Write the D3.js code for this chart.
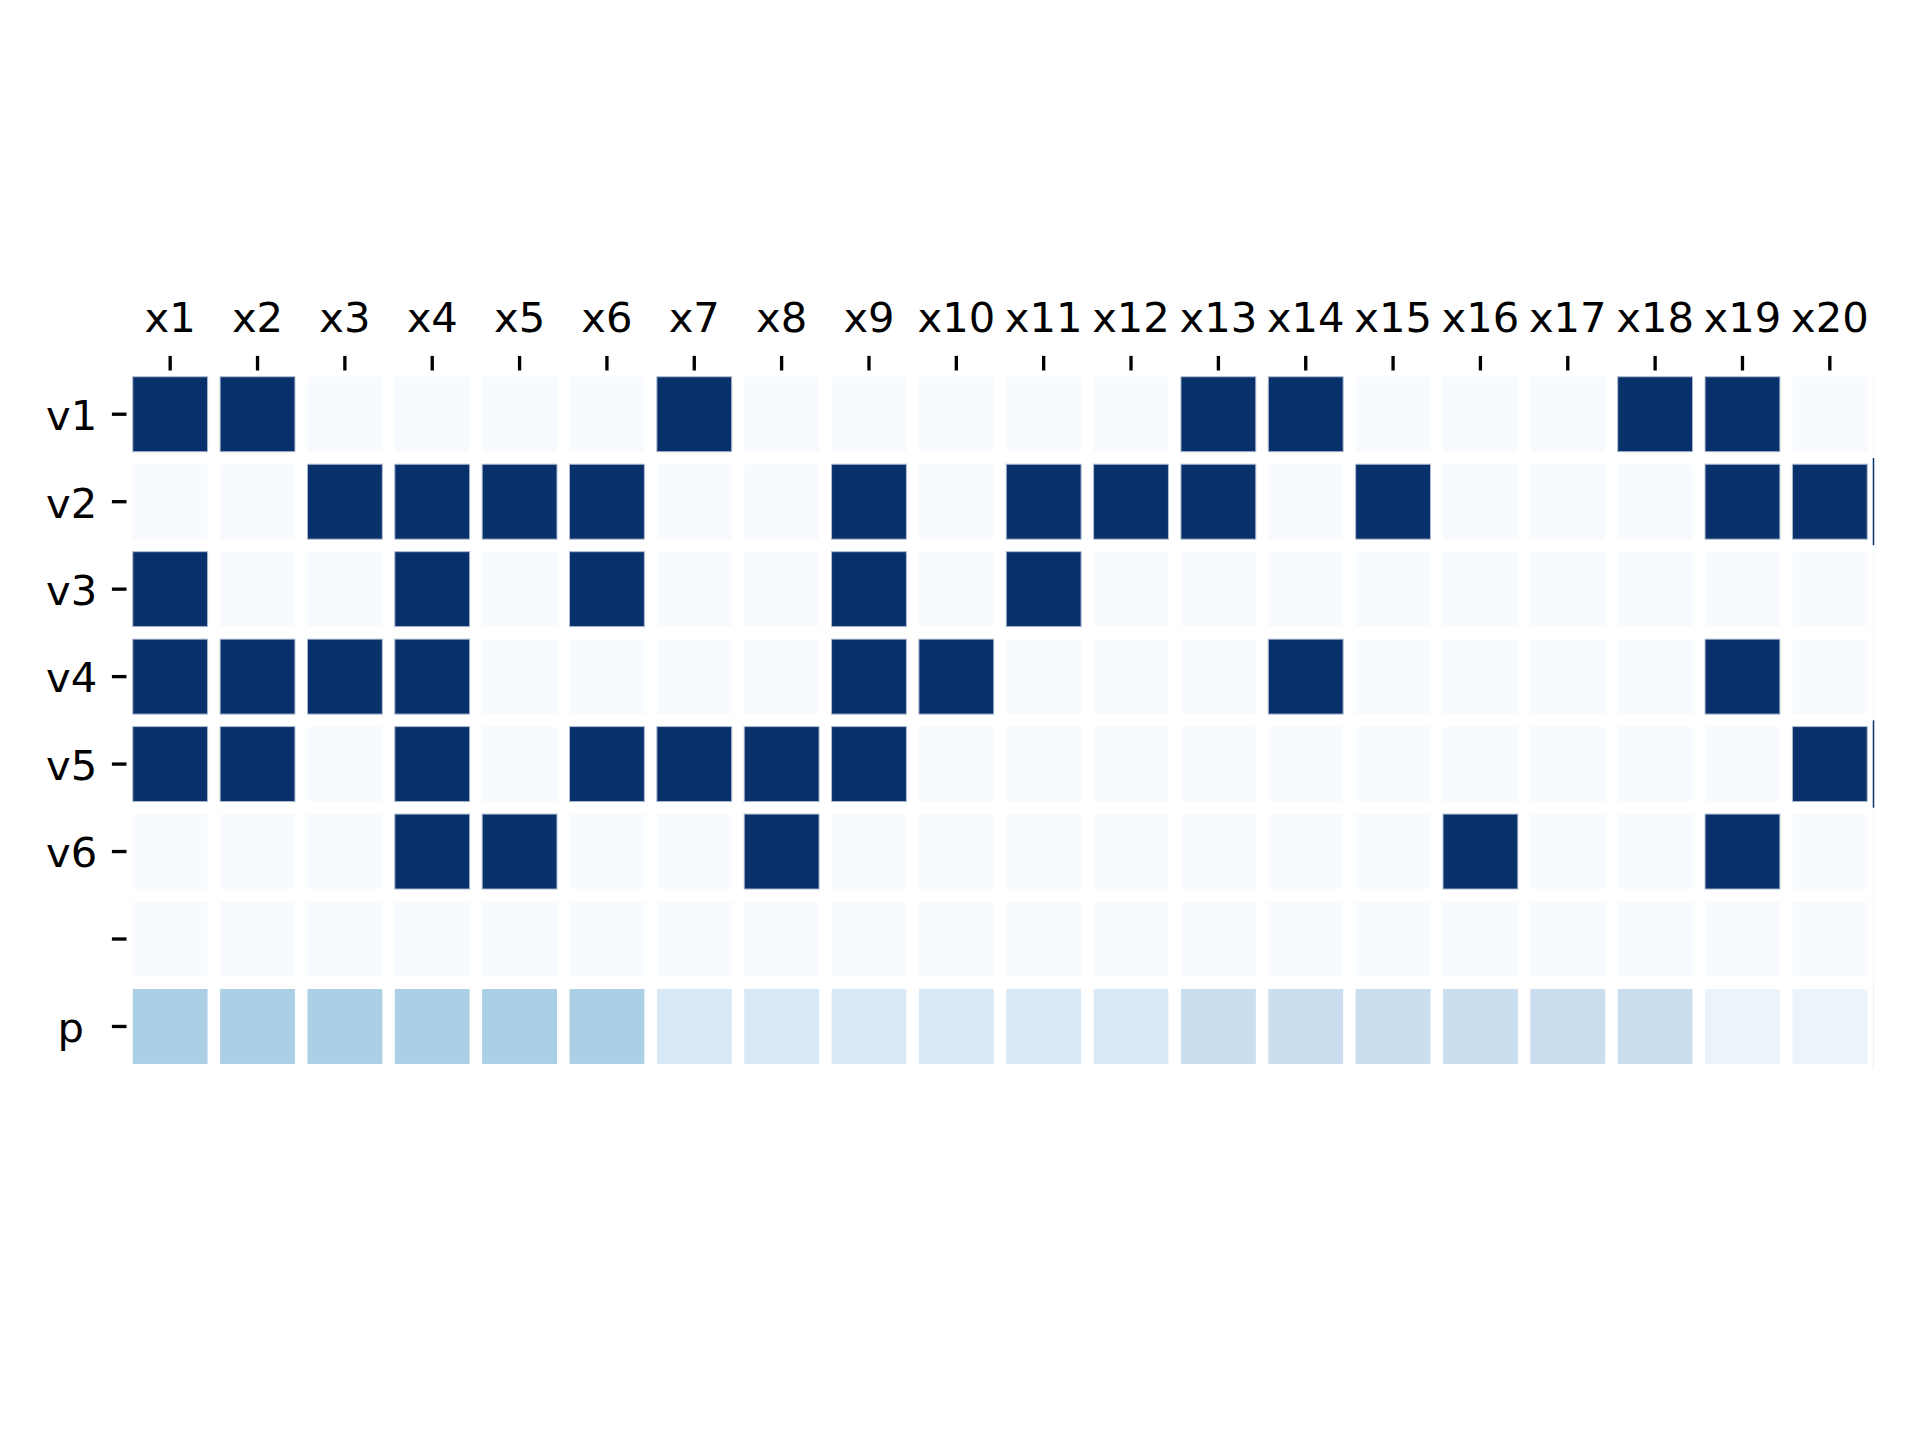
<!DOCTYPE html>
<html>
<head>
<meta charset="utf-8">
<script src="https://cdn.jsdelivr.net/npm/d3@7"></script>
<style>
  html, body { margin: 0; padding: 0; background: #ffffff; }
  svg { display: block; }
  text { font-family: "DejaVu Sans", sans-serif; fill: #000; white-space: pre; }
</style>
</head>
<body>
<script>
// ---------- data ----------
const columns = ["x1","x2","x3","x4","x5","x6","x7","x8","x9","x10",
                 "x11","x12","x13","x14","x15","x16","x17","x18","x19","x20"];
const rowLabels = ["v1","v2","v3","v4","v5","v6","","p\u00a0"];

const v1 = [1,1,0,0,0,0,1,0,0,0,0,0,1,1,0,0,0,1,1,0];
const v2 = [0,0,1,1,1,1,0,0,1,0,1,1,1,0,1,0,0,0,1,1];
const v3 = [1,0,0,1,0,1,0,0,1,0,1,0,0,0,0,0,0,0,0,0];
const v4 = [1,1,1,1,0,0,0,0,1,1,0,0,0,1,0,0,0,0,1,0];
const v5 = [1,1,0,1,0,1,1,1,1,0,0,0,0,0,0,0,0,0,0,1];
const v6 = [0,0,0,1,1,0,0,1,0,0,0,0,0,0,0,1,0,0,1,0];
const blank = [0,0,0,0,0,0,0,0,0,0,0,0,0,0,0,0,0,0,0,0];
const p  = [0.333,0.333,0.333,0.333,0.333,0.333,
            0.15,0.15,0.15,0.15,0.15,0.15,
            0.23,0.23,0.23,0.23,0.23,0.23,
            0.06,0.06];

const rows = [v1, v2, v3, v4, v5, v6, blank, p];

// ---------- layout ----------
const W = 1920, H = 1440;
const mLeft = 126.5, mRight = 1873.5, mTop = 370.5, mBottom = 1070.2;
const gap = 12.5;
const fontSize = 41.7;
const tickLen = 14.6, tickW = 3.33, pad = 14.6;

const svg = d3.select("body").append("svg")
  .attr("width", W).attr("height", H);

const x = d3.scaleBand().domain(columns).range([mLeft, mRight]).padding(0);
const y = d3.scaleBand().domain(d3.range(rowLabels.length)).range([mTop, mBottom]).padding(0);

// matplotlib "Blues"
const bluesStops = ["#f7fbff","#deebf7","#c6dbef","#9ecae1","#6baed6",
                    "#4292c6","#2171b5","#08519c","#08306b"];
const color = d3.scaleLinear()
  .domain(bluesStops.map((_, i) => i / (bluesStops.length - 1)))
  .range(bluesStops)
  .interpolate(d3.interpolateRgb);

const cells = [];
rows.forEach((r, ri) => r.forEach((v, ci) => cells.push({ri, ci, v})));

const g = svg.append("g");
g.selectAll("rect.cell").data(cells).enter().append("rect")
  .attr("class", "cell")
  .attr("x", d => x(columns[d.ci]) + gap / 2)
  .attr("y", d => y(d.ri) + gap / 2)
  .attr("width", x.bandwidth() - gap)
  .attr("height", y.bandwidth() - gap)
  .attr("fill", d => color(d.v))
  .attr("stroke", d => d.v > 0.5 ? "#aebbd0" : "none")
  .attr("stroke-width", 1);

// right-edge mesh artifact line
g.selectAll("line.edge").data(rows).enter().append("line")
  .attr("class", "edge")
  .attr("x1", mRight).attr("x2", mRight)
  .attr("y1", (d, i) => y(i))
  .attr("y2", (d, i) => y(i) + y.bandwidth())
  .attr("stroke", d => color(d[d.length - 1]))
  .attr("stroke-width", 1.5);

// ---------- axes ----------
const xAxis = d3.axisTop(x).tickSize(tickLen).tickPadding(pad + 9.8);
const gx = svg.append("g").attr("transform", `translate(0,${mTop})`).call(xAxis);
gx.select(".domain").remove();
gx.selectAll(".tick line").attr("stroke", "#000").attr("stroke-width", tickW);
gx.selectAll(".tick text")
  .style("font-family", '"DejaVu Sans", sans-serif')
  .style("font-size", fontSize + "px")
  .attr("fill", "#000");

const yAxis = d3.axisLeft(y).tickSize(tickLen).tickPadding(pad)
  .tickFormat(i => rowLabels[i]);
const gy = svg.append("g").attr("transform", `translate(${mLeft},0)`).call(yAxis);
gy.select(".domain").remove();
gy.selectAll(".tick line").attr("stroke", "#000").attr("stroke-width", tickW);
gy.selectAll(".tick text")
  .style("font-family", '"DejaVu Sans", sans-serif')
  .style("font-size", fontSize + "px")
  .style("white-space", "pre")
  .attr("fill", "#000")
  .attr("dy", "0.38em");
</script>
</body>
</html>
